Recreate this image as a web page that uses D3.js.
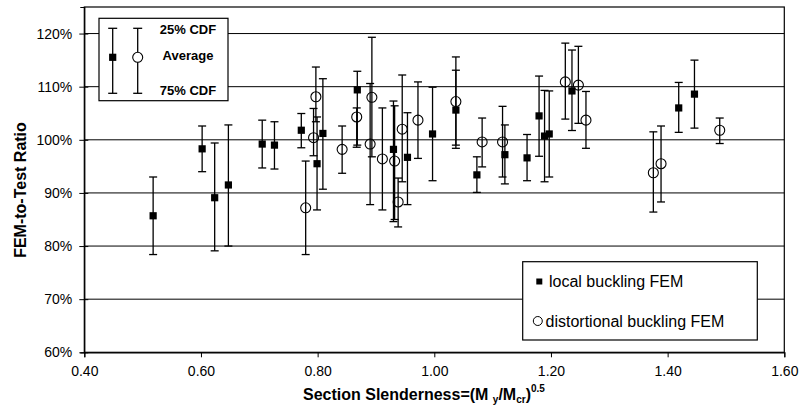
<!DOCTYPE html>
<html>
<head>
<meta charset="utf-8">
<script src="https://cdn.jsdelivr.net/npm/d3@7"></script>
<style>
  html, body { margin: 0; padding: 0; background: #fff; }
  svg { display: block; font-family: Arial, "Liberation Sans", sans-serif; }
</style>
</head>
<body>
<svg id="chart" width="800" height="413"></svg>
<script>
// ---- data ----
const xTicks = [0.4, 0.6, 0.8, 1.0, 1.2, 1.4, 1.6];
const yTicks = [60, 70, 80, 90, 100, 110, 120];

// local buckling FEM
const localX     = [0.518, 0.602, 0.6235, 0.647, 0.705, 0.726, 0.772, 0.799, 0.809, 0.868, 0.930, 0.954, 0.997, 1.037, 1.073, 1.121, 1.159, 1.1796, 1.189, 1.197, 1.236, 1.419, 1.446];
const localAvg   = [85.7, 98.3, 89.1, 91.5, 99.2, 99.0, 101.8, 95.5, 101.2, 109.4, 98.2, 96.7, 101.1, 105.6, 93.4, 97.2, 96.6, 104.5, 100.7, 101.1, 109.2, 106.0, 108.6];
const localCdf25 = [93.0, 102.6, 99.4, 102.8, 103.7, 103.4, 104.95, 104.3, 111.5, 112.9, 107.3, 105.1, 109.9, 113.1, 96.8, 102.8, 101.0, 112.0, 109.3, 109.2, 116.9, 110.8, 115.0];
const localCdf75 = [78.4, 94.0, 79.1, 80.0, 94.7, 94.5, 98.5, 86.8, 90.7, 99.0, 84.6, 87.8, 92.3, 98.4, 90.1, 91.7, 92.3, 96.9, 92.1, 93.0, 101.75, 101.4, 102.2];

// distortional buckling FEM
const distX     = [0.7795, 0.793, 0.797, 0.842, 0.867, 0.890, 0.893, 0.911, 0.932, 0.938, 0.945, 0.972, 1.037, 1.082, 1.117, 1.2246, 1.247, 1.260, 1.3755, 1.3887, 1.4893];
const distAvg   = [87.2, 100.4, 108.1, 98.2, 104.3, 99.2, 108.0, 96.4, 96.0, 88.3, 102.0, 103.7, 107.2, 99.6, 99.6, 110.9, 110.3, 103.7, 93.8, 95.5, 101.8];
const distCdf25 = [96.0, 105.9, 113.7, 102.6, 106.0, 110.6, 119.3, 106.0, 106.4, 92.8, 112.2, 110.9, 115.6, 104.1, 106.3, 118.2, 117.6, 109.1, 101.5, 102.6, 104.1];
const distCdf75 = [78.4, 97.0, 103.4, 93.7, 98.6, 87.8, 96.8, 86.8, 85.0, 83.6, 92.1, 96.5, 99.0, 94.9, 93.0, 103.9, 103.1, 98.4, 86.4, 88.3, 99.3];

const legendItems = ["local buckling FEM", "distortional buckling FEM"];
const cdfLabels = ["25% CDF", "Average", "75% CDF"];

// ---- layout ----
const svg = d3.select("#chart");
const L = 84.3, R = 784.3, T = 7, B = 352.3;
const x = d3.scaleLinear().domain([0.4, 1.6]).range([L, R]);
const y = d3.scaleLinear().domain([60, 125]).range([B, T]);
const font = 'Arial, "Liberation Sans", sans-serif';

// gridlines
svg.append("g").selectAll("line").data(yTicks.filter(d => d > 60)).join("line")
  .attr("x1", L).attr("x2", R)
  .attr("y1", d => y(d)).attr("y2", d => y(d))
  .attr("stroke", "#000").attr("stroke-width", 1);

// frame
svg.append("rect").attr("x", L).attr("y", T).attr("width", R - L).attr("height", B - T)
  .attr("fill", "none").attr("stroke", "#000").attr("stroke-width", 1.2);

// y axis
const yAxis = d3.axisLeft(y).tickValues(yTicks).tickFormat(d => d + "%").tickSize(4).tickPadding(8);
const gy = svg.append("g").attr("transform", `translate(${L},0)`).call(yAxis);
gy.select(".domain").attr("stroke", "#000").attr("stroke-width", 1.2);
gy.selectAll(".tick line").attr("x1", -5).attr("x2", 4).attr("stroke", "#000");
gy.selectAll(".tick text").attr("font-size", 14).attr("font-family", font).attr("fill", "#000").attr("x", -12);

// x axis
const xAxis = d3.axisBottom(x).tickValues(xTicks).tickFormat(d3.format(".2f")).tickSize(5).tickPadding(9);
const gx = svg.append("g").attr("transform", `translate(0,${B})`).call(xAxis);
gx.select(".domain").attr("stroke", "#000").attr("stroke-width", 1.2);
gx.selectAll(".tick line").attr("stroke", "#000");
gx.selectAll(".tick text").attr("font-size", 14).attr("font-family", font).attr("fill", "#000");

// error bars + markers
function series(xs, avg, hi, lo, kind) {
  const data = xs.map((v, i) => ({ x: v, a: avg[i], hi: hi[i], lo: lo[i] }));
  const g = svg.append("g");
  const eb = g.selectAll("g.eb").data(data).join("g").attr("class", "eb")
    .attr("stroke", "#000").attr("stroke-width", 1.3);
  eb.append("line").attr("x1", d => x(d.x)).attr("x2", d => x(d.x))
    .attr("y1", d => y(d.hi)).attr("y2", d => y(d.lo));
  eb.append("line").attr("x1", d => x(d.x) - 4).attr("x2", d => x(d.x) + 4)
    .attr("y1", d => y(d.hi)).attr("y2", d => y(d.hi));
  eb.append("line").attr("x1", d => x(d.x) - 4).attr("x2", d => x(d.x) + 4)
    .attr("y1", d => y(d.lo)).attr("y2", d => y(d.lo));
  if (kind === "square") {
    g.selectAll("rect").data(data).join("rect")
      .attr("x", d => x(d.x) - 3.6).attr("y", d => y(d.a) - 3.6)
      .attr("width", 7.2).attr("height", 7.2).attr("fill", "#000");
  } else {
    g.selectAll("circle").data(data).join("circle")
      .attr("cx", d => x(d.x)).attr("cy", d => y(d.a)).attr("r", 5)
      .attr("fill", "none").attr("stroke", "#000").attr("stroke-width", 1.1);
  }
}
series(localX, localAvg, localCdf25, localCdf75, "square");
series(distX, distAvg, distCdf25, distCdf75, "circle");

// top-left CDF legend
const lg = svg.append("g");
lg.append("rect").attr("x", 99).attr("y", 18.3).attr("width", 129).attr("height", 82.4)
  .attr("fill", "#fff").attr("stroke", "#000").attr("stroke-width", 1.2);
[112.7, 137.7].forEach((cx, i) => {
  lg.append("line").attr("x1", cx).attr("x2", cx).attr("y1", 28.3).attr("y2", 93.3).attr("stroke", "#000").attr("stroke-width", 1.3);
  lg.append("line").attr("x1", cx - 4.5).attr("x2", cx + 4.5).attr("y1", 28.3).attr("y2", 28.3).attr("stroke", "#000").attr("stroke-width", 1.3);
  lg.append("line").attr("x1", cx - 4.5).attr("x2", cx + 4.5).attr("y1", 93.3).attr("y2", 93.3).attr("stroke", "#000").attr("stroke-width", 1.3);
  if (i === 0) lg.append("rect").attr("x", cx - 3.6).attr("y", 57.3 - 3.6).attr("width", 7.2).attr("height", 7.2).attr("fill", "#000");
  else lg.append("circle").attr("cx", cx).attr("cy", 57.3).attr("r", 5).attr("fill", "#fff").attr("stroke", "#000").attr("stroke-width", 1.1);
});
lg.selectAll("text").data(cdfLabels).join("text")
  .attr("x", 188).attr("y", (d, i) => [34.3, 59.8, 95][i])
  .attr("text-anchor", "middle").attr("font-size", 13).attr("font-weight", "bold")
  .attr("font-family", font).text(d => d);

// bottom-right series legend
const sl = svg.append("g");
sl.append("rect").attr("x", 522.7).attr("y", 261.7).attr("width", 234.6).attr("height", 78.3)
  .attr("fill", "#fff").attr("stroke", "#000").attr("stroke-width", 1.2);
sl.append("rect").attr("x", 539.3 - 3).attr("y", 281.5 - 3).attr("width", 6).attr("height", 6).attr("fill", "#000");
sl.append("circle").attr("cx", 537.8).attr("cy", 321).attr("r", 4.5).attr("fill", "none").attr("stroke", "#000").attr("stroke-width", 1);
sl.selectAll("text").data(legendItems).join("text")
  .attr("x", (d, i) => i === 0 ? 549 : 545.5).attr("y", (d, i) => i === 0 ? 287 : 326.5)
  .attr("font-size", 16).attr("font-family", font).text(d => d);

// axis titles
const yt = svg.append("text")
  .attr("transform", "translate(25.5,190) rotate(-90)")
  .attr("text-anchor", "middle").attr("font-size", 16).attr("font-weight", "bold")
  .attr("font-family", font).text("FEM-to-Test Ratio");

const xt = svg.append("text").attr("x", 303).attr("y", 400)
  .attr("font-size", 16).attr("font-weight", "bold").attr("font-family", font);
xt.append("tspan").text("Section Slenderness=(M ");
xt.append("tspan").attr("font-size", 10).attr("dy", 3).text("y");
xt.append("tspan").attr("dy", -3).text("/M");
xt.append("tspan").attr("font-size", 10).attr("dy", 3).text("cr");
xt.append("tspan").attr("dy", -3).text(")");
xt.append("tspan").attr("font-size", 10).attr("dy", -8).text("0.5");
</script>
</body>
</html>
